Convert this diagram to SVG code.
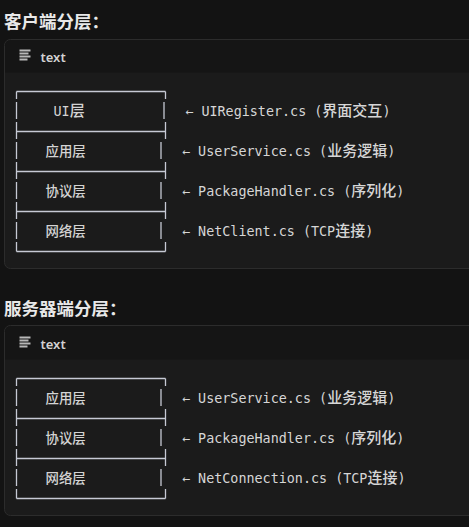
<svg xmlns="http://www.w3.org/2000/svg" width="469" height="527" viewBox="0 0 469 527">
<style>
.h{font-family:"Noto Sans CJK SC","Noto Sans",sans-serif;font-size:17.5px;font-weight:700;fill:#e8e8e8}
.lang{font-family:"Noto Sans","Liberation Sans",sans-serif;font-size:13px;font-weight:600;fill:#d2d2d2}
.code{font-family:"DejaVu Sans Mono","Noto Sans CJK SC",monospace;font-size:13.4px;fill:#d6d6d6}
.cj{font-family:"Noto Sans CJK SC",sans-serif;font-size:15px;font-weight:500}
.lbl{font-family:"DejaVu Sans Mono","Noto Sans CJK SC",monospace;font-size:13.4px;fill:#d4d4d4}
.card{fill:#1b1b1b;stroke:#2c2c2c;stroke-width:1}
.cardh{fill:#151515}
.box{stroke:#c6c9d4;stroke-width:1.3;fill:none}
.dash{stroke-dasharray:17 3;stroke-dashoffset:9.5}
.icon{fill:#b8b8b8}
</style>
<rect x="0" y="0" width="469" height="527" fill="#131313"/>

<g id="client-section">
<text class="h" x="4" y="28">客户端分层：</text>
<g id="client-card">
<rect class="card" x="4.5" y="39.5" width="480" height="229" rx="6"/>
<path class="cardh" d="M5,72.5 V45.5 a5.5,5.5 0 0 1 5.5,-5.5 H484 V72.5 Z"/>
<g class="icon"><rect x="19.5" y="49.5" width="11" height="2"/><rect x="19.5" y="52.5" width="9" height="2"/><rect x="19.5" y="55.5" width="11" height="2"/><rect x="19.5" y="58.5" width="8" height="2"/></g>
<text class="lang" x="40.5" y="62">text</text>
</g>
<g id="client-connectors">
<g class="box">
<line x1="16.5" y1="91.5" x2="165.5" y2="91.5"/>
<line x1="16.5" y1="131.5" x2="165.5" y2="131.5"/>
<line x1="16.5" y1="171.5" x2="165.5" y2="171.5"/>
<line x1="16.5" y1="211.5" x2="165.5" y2="211.5"/>
<line x1="16.5" y1="251.5" x2="165.5" y2="251.5"/>
<line class="dash" x1="16.5" y1="91.5" x2="16.5" y2="251.5"/>
<line x1="165.5" y1="91.5" x2="165.5" y2="99"/>
<line x1="164" y1="102" x2="164" y2="119"/>
<line x1="165.5" y1="122" x2="165.5" y2="139"/>
<line x1="161" y1="142" x2="161" y2="159"/>
<line x1="165.5" y1="162" x2="165.5" y2="179"/>
<line x1="161" y1="182" x2="161" y2="199"/>
<line x1="165.5" y1="202" x2="165.5" y2="219"/>
<line x1="161" y1="222" x2="161" y2="239"/>
<line x1="165.5" y1="242" x2="165.5" y2="251.5"/>
</g>
</g>
<g id="client-ui">
<text class="lbl" x="53.5" y="116">UI<tspan class="cj">层</tspan></text>
<text class="code" x="185.3" y="116">← UIRegister.cs (<tspan class="cj">界面交互</tspan>)</text>
</g>
<g id="client-app">
<text class="lbl cj" x="45.5" y="156">应用层</text>
<text class="code" x="182" y="156">← UserService.cs (<tspan class="cj">业务逻辑</tspan>)</text>
</g>
<g id="client-protocol">
<text class="lbl cj" x="45.5" y="196">协议层</text>
<text class="code" x="182" y="196">← PackageHandler.cs (<tspan class="cj">序列化</tspan>)</text>
</g>
<g id="client-network">
<text class="lbl cj" x="45.5" y="236">网络层</text>
<text class="code" x="182" y="236">← NetClient.cs (TCP<tspan class="cj">连接</tspan>)</text>
</g>
</g>

<g id="server-section">
<text class="h" x="4" y="315">服务器端分层：</text>
<g id="server-card">
<rect class="card" x="4.5" y="325.5" width="480" height="190" rx="6"/>
<path class="cardh" d="M5,359.5 V331.5 a5.5,5.5 0 0 1 5.5,-5.5 H484 V359.5 Z"/>
<g class="icon"><rect x="19.5" y="336.5" width="11" height="2"/><rect x="19.5" y="339.5" width="9" height="2"/><rect x="19.5" y="342.5" width="11" height="2"/><rect x="19.5" y="345.5" width="8" height="2"/></g>
<text class="lang" x="40.5" y="349">text</text>
</g>
<g id="server-connectors">
<g class="box">
<line x1="16.5" y1="378.5" x2="165.5" y2="378.5"/>
<line x1="16.5" y1="418.5" x2="165.5" y2="418.5"/>
<line x1="16.5" y1="458.5" x2="165.5" y2="458.5"/>
<line x1="16.5" y1="498.5" x2="165.5" y2="498.5"/>
<line class="dash" x1="16.5" y1="378.5" x2="16.5" y2="498.5"/>
<line x1="165.5" y1="378.5" x2="165.5" y2="386"/>
<line x1="161" y1="389" x2="161" y2="406"/>
<line x1="165.5" y1="409" x2="165.5" y2="426"/>
<line x1="161" y1="429" x2="161" y2="446"/>
<line x1="165.5" y1="449" x2="165.5" y2="466"/>
<line x1="161" y1="469" x2="161" y2="486"/>
<line x1="165.5" y1="489" x2="165.5" y2="498.5"/>
</g>
</g>
<g id="server-app">
<text class="lbl cj" x="45.5" y="403">应用层</text>
<text class="code" x="182" y="403">← UserService.cs (<tspan class="cj">业务逻辑</tspan>)</text>
</g>
<g id="server-protocol">
<text class="lbl cj" x="45.5" y="443">协议层</text>
<text class="code" x="182" y="443">← PackageHandler.cs (<tspan class="cj">序列化</tspan>)</text>
</g>
<g id="server-network">
<text class="lbl cj" x="45.5" y="483">网络层</text>
<text class="code" x="182" y="483">← NetConnection.cs (TCP<tspan class="cj">连接</tspan>)</text>
</g>
</g>
</svg>
